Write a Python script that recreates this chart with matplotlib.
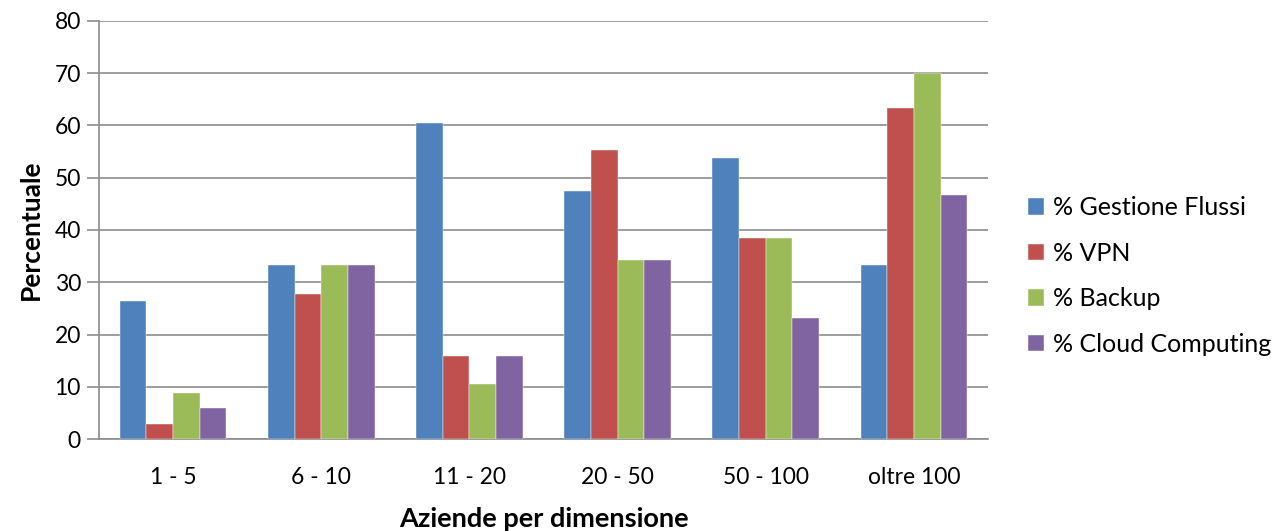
import matplotlib
matplotlib.use("Agg")
from matplotlib import pyplot as plt
import numpy as np

categories = ["1 - 5", "6 - 10", "11 - 20", "20 - 50", "50 - 100", "oltre 100"]
gestione_flussi = [26.5, 33.3, 60.5, 47.4, 53.8, 33.3]
vpn = [2.9, 27.8, 15.8, 55.3, 38.5, 63.3]
backup = [8.8, 33.3, 10.5, 34.2, 38.5, 70.0]
cloud = [5.9, 33.3, 15.8, 34.2, 23.1, 46.7]

series_names = ["% Gestione Flussi", "% VPN", "% Backup", "% Cloud Computing"]
colors = ["#4F81BD", "#C0504D", "#9BBB59", "#8064A2"]

plt.rcParams['font.family'] = ['Lato', 'DejaVu Sans']

fig = plt.figure(figsize=(12.86, 5.31), dpi=100)
ax = fig.add_axes([99/1286, 1 - 439/531, (988 - 99)/1286, (439 - 21)/531])

x = np.arange(len(categories))
w = 0.18
for i, (vals, name, c) in enumerate(zip([gestione_flussi, vpn, backup, cloud], series_names, colors)):
    ax.bar(x + (i - 1.5) * w, vals, w, color=c, label=name, edgecolor="white", linewidth=0.3, zorder=3)

ax.set_xlim(-0.5, len(categories) - 0.5)
ax.set_ylim(0, 80)
ax.set_yticks(range(0, 81, 10))
ax.set_xticks(x)
ax.set_xticklabels(categories)
ax.yaxis.grid(True, color="#8c8c8c", linewidth=1.2, zorder=0)
ax.set_axisbelow(True)

for s in ["top", "right"]:
    ax.spines[s].set_visible(False)
ax.spines["left"].set_color("#8c8c8c")
ax.spines["bottom"].set_color("#8c8c8c")
ax.spines["left"].set_linewidth(1.2)
ax.spines["bottom"].set_linewidth(1.2)
ax.tick_params(axis="y", length=9, color="#8c8c8c", width=1.2, labelsize=16.5, pad=4)
ax.tick_params(axis="x", length=0, labelsize=16.5, pad=20)

ax.set_ylabel("Percentuale", fontsize=19, fontweight="bold", labelpad=8)
ax.set_xlabel("Aziende per dimensione", fontsize=19.5, fontweight="bold", labelpad=14)

ax.legend(loc="center left", bbox_to_anchor=(1.025, 0.39), frameon=False, fontsize=18,
          handlelength=0.65, handleheight=0.65, handletextpad=0.35, labelspacing=0.9,
          borderaxespad=0.3)

fig.savefig("out.png", dpi=100)
